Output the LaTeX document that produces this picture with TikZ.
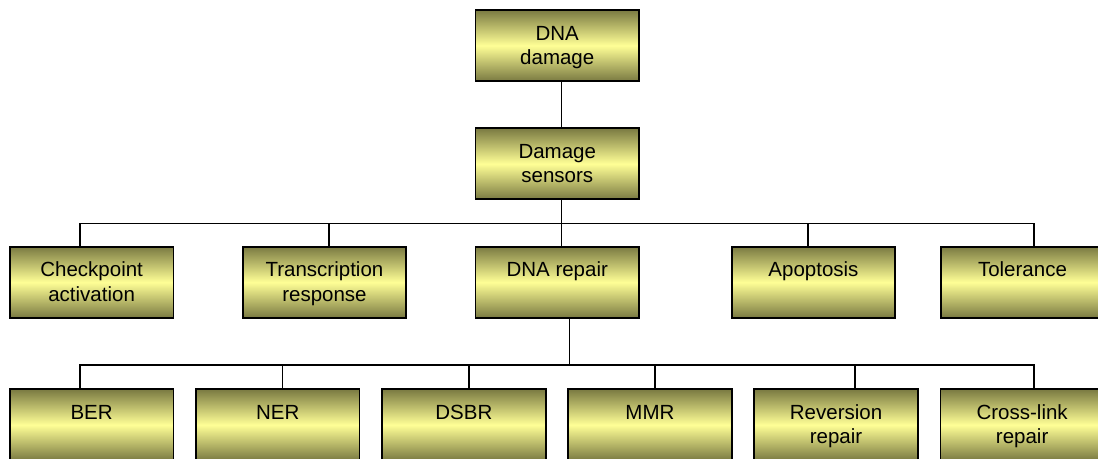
\documentclass[tikz,border=0pt]{standalone}
\usepackage{fontspec}
\setmainfont{Liberation Sans}
\usetikzlibrary{positioning}
\definecolor{olivedark}{RGB}{122,122,66}
\definecolor{paleyellow}{RGB}{255,255,150}

\begin{document}
\begin{tikzpicture}[
  x=1pt, y=1pt,
  every node/.style={font=\fontsize{20.5}{24.5}\selectfont},
  box/.style={draw=black, line width=1.8pt, top color=olivedark, bottom color=olivedark, middle color=paleyellow,
    inner sep=0pt, outer sep=0pt, minimum width=163.5pt, minimum height=71pt,
    execute at begin node={\begin{minipage}[c][71pt][t]{163.5pt}\centering\rule{0pt}{30pt}},
    execute at end node={\end{minipage}}},
  link/.style={draw=black, line width=1.4pt}
]
\useasboundingbox[fill=white] (0,0) rectangle (1098,-458);
\clip (0,0) rectangle (1098,-458);

\node[box] (dna) at (557.25,-45.5) {DNA\\damage};
\node[box, below=47.3pt of dna] (sens) {Damage\\sensors};
\node[box, below=47.4pt of sens] (rep) {DNA repair};
\node[box, left=69.3pt of rep] (trans) {Transcription\\response};
\node[box, left=69.3pt of trans] (chk) {Checkpoint\\activation};
\node[box, right=92.7pt of rep] (apo) {Apoptosis};
\node[box, right=45.5pt of apo] (tol) {Tolerance};
\node[box, below=71.6pt of chk] (ber) {BER};
\node[box, right=22.6pt of ber] (ner) {NER};
\node[box, right=22.6pt of ner] (dsbr) {DSBR};
\node[box, right=22.6pt of dsbr] (mmr) {MMR};
\node[box, right=22.6pt of mmr] (rev) {Reversion\\repair};
\node[box, right=22.6pt of rev] (xl) {Cross-link\\repair};

\coordinate (upbus) at (0,-223.3);
\coordinate (lowbus) at (0,-365);

% upper tree
\draw[link] ([xshift=4.5pt]dna.south) -- ([xshift=4.5pt]sens.north);
\draw[link] ([xshift=4.5pt]sens.south) -- ([xshift=4.5pt]rep.north);
\draw[link] ([xshift=-11.7pt]chk.north) |- ([xshift=11.5pt]tol.north |- upbus) -- ([xshift=11.5pt]tol.north);
\draw[link] ([xshift=4.4pt]trans.north) -- ([xshift=4.4pt]trans.north |- upbus);
\draw[link] ([xshift=-5.5pt]apo.north) -- ([xshift=-5.5pt]apo.north |- upbus);

% lower tree
\draw[link] ([xshift=12pt]rep.south) -- ([xshift=12pt]rep.south |- lowbus);
\draw[link] ([xshift=-11.7pt]ber.north) |- ([xshift=11.8pt]xl.north |- lowbus) -- ([xshift=11.8pt]xl.north);
\draw[link] ([xshift=5pt]ner.north) -- ([xshift=5pt]ner.north |- lowbus);
\draw[link] ([xshift=5.2pt]dsbr.north) -- ([xshift=5.2pt]dsbr.north |- lowbus);
\draw[link] ([xshift=5pt]mmr.north) -- ([xshift=5pt]mmr.north |- lowbus);
\draw[link] ([xshift=19pt]rev.north) -- ([xshift=19pt]rev.north |- lowbus);
\end{tikzpicture}
\end{document}
